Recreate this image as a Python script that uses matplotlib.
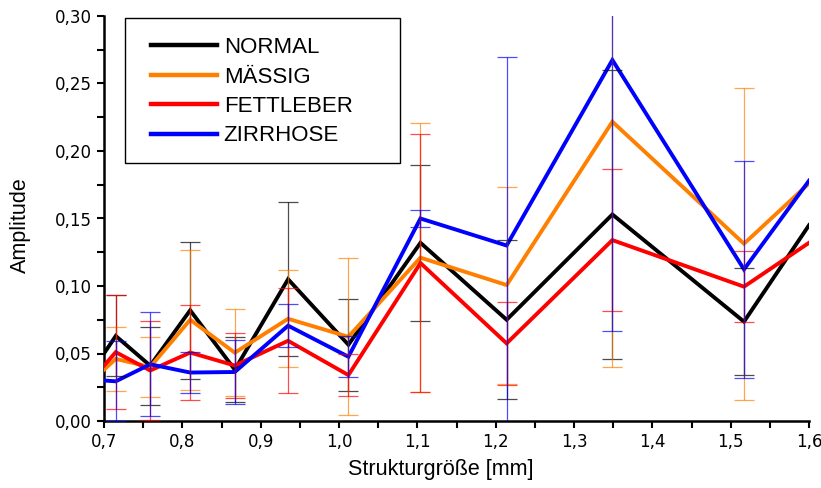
import numpy as np
import matplotlib
matplotlib.use("Agg")
import matplotlib.pyplot as plt
from matplotlib.patches import Rectangle
from matplotlib.ticker import MultipleLocator, FuncFormatter

# Structure sizes [mm]
struktur = [0.700, 0.715, 0.759, 0.810, 0.867, 0.935, 1.012, 1.104, 1.214, 1.349, 1.517, 1.600]

normal = [0.050, 0.063, 0.041, 0.082, 0.038, 0.105, 0.0565, 0.132, 0.075, 0.153, 0.0736, 0.145]
normal_err = [np.nan, 0.030, 0.029, 0.0506, 0.024, 0.057, 0.034, 0.058, 0.059, 0.107, 0.0395, np.nan]

maessig = [0.038, 0.046, 0.040, 0.075, 0.0506, 0.0757, 0.0624, 0.121, 0.1007, 0.2217, 0.1313, 0.176]
maessig_err = [np.nan, 0.024, 0.022, 0.052, 0.032, 0.036, 0.058, 0.0995, 0.073, 0.182, 0.1157, np.nan]

fettleber = [0.041, 0.051, 0.0374, 0.0507, 0.0411, 0.0594, 0.034, 0.117, 0.0575, 0.134, 0.0995, 0.132]
fettleber_err = [np.nan, 0.042, 0.037, 0.035, 0.024, 0.039, 0.0155, 0.0955, 0.0305, 0.0528, 0.0264, np.nan]

zirrhose = [0.030, 0.0294, 0.042, 0.0359, 0.0363, 0.0706, 0.0476, 0.150, 0.130, 0.2674, 0.1123, 0.178]
zirrhose_err = [np.nan, 0.0296, 0.0385, 0.015, 0.024, 0.016, 0.015, 0.0062, 0.140, 0.2005, 0.0803, np.nan]

labels = ["NORMAL", "MÄSSIG", "FETTLEBER", "ZIRRHOSE"]
colors = ["#000000", "#FF8000", "#FF0000", "#0000FF"]

fig = plt.figure(figsize=(8.21, 4.88), dpi=100)
ax = fig.add_axes([104 / 821, 1 - 421 / 488, 705 / 821, 405 / 488])

series = [(normal, normal_err), (maessig, maessig_err),
          (fettleber, fettleber_err), (zirrhose, zirrhose_err)]

x = np.array(struktur)
for (vals, errs), lab, col in zip(series, labels, colors):
    ax.plot(x, vals, color=col, lw=2.8, label=lab, solid_joinstyle="miter", zorder=3)

for (vals, errs), col in zip(series, colors):
    v = np.array(vals)
    e = np.array(errs)
    m = ~np.isnan(e)
    ax.errorbar(x[m], v[m], yerr=e[m], fmt="none", ecolor=col, elinewidth=0.9,
                capsize=7, capthick=0.9, alpha=0.7, zorder=4)

ax.set_xlim(0.7, 1.6)
ax.set_ylim(0.0, 0.30)

for s in ["top", "right"]:
    ax.spines[s].set_visible(False)
for s in ["left", "bottom"]:
    ax.spines[s].set_linewidth(1.8)

ax.xaxis.set_major_locator(MultipleLocator(0.1))
ax.xaxis.set_minor_locator(MultipleLocator(0.05))
ax.yaxis.set_major_locator(MultipleLocator(0.05))
ax.yaxis.set_minor_locator(MultipleLocator(0.025))
ax.xaxis.set_major_formatter(FuncFormatter(lambda v, p: f"{v:.1f}".replace(".", ",")))
ax.yaxis.set_major_formatter(FuncFormatter(lambda v, p: f"{v:.2f}".replace(".", ",")))

tickfont = ["Liberation Sans Narrow", "DejaVu Sans"]
ax.tick_params(which="both", direction="out", width=1.5, length=5, labelsize=12)
for lbl in ax.get_xticklabels() + ax.get_yticklabels():
    lbl.set_family(tickfont)

labfont = ["Liberation Sans", "DejaVu Sans"]
ax.set_xlabel("Strukturgröße [mm]", fontsize=15.5, family=labfont)
ax.set_ylabel("Amplitude", fontsize=15.5, family=labfont)
ax.xaxis.set_label_coords(0.477, -0.093)
ax.yaxis.set_label_coords(-0.104, 0.483)

# Legend frame drawn as its own box, entries placed inside it
frame = Rectangle((0.0298, 0.637), 0.390, 0.358, transform=ax.transAxes,
                  facecolor="white", edgecolor="black", lw=1.0, zorder=5)
ax.add_patch(frame)
leg = ax.legend(loc="upper left", bbox_to_anchor=(0.066, 0.948), borderaxespad=0,
                frameon=False, handlelength=2.97, handletextpad=0.32,
                labelspacing=0.38, borderpad=0.0,
                prop={"family": labfont, "size": 16})
leg.set_zorder(6)
for line in leg.get_lines():
    line.set_linewidth(3.2)

fig.savefig("out.png", dpi=100)
